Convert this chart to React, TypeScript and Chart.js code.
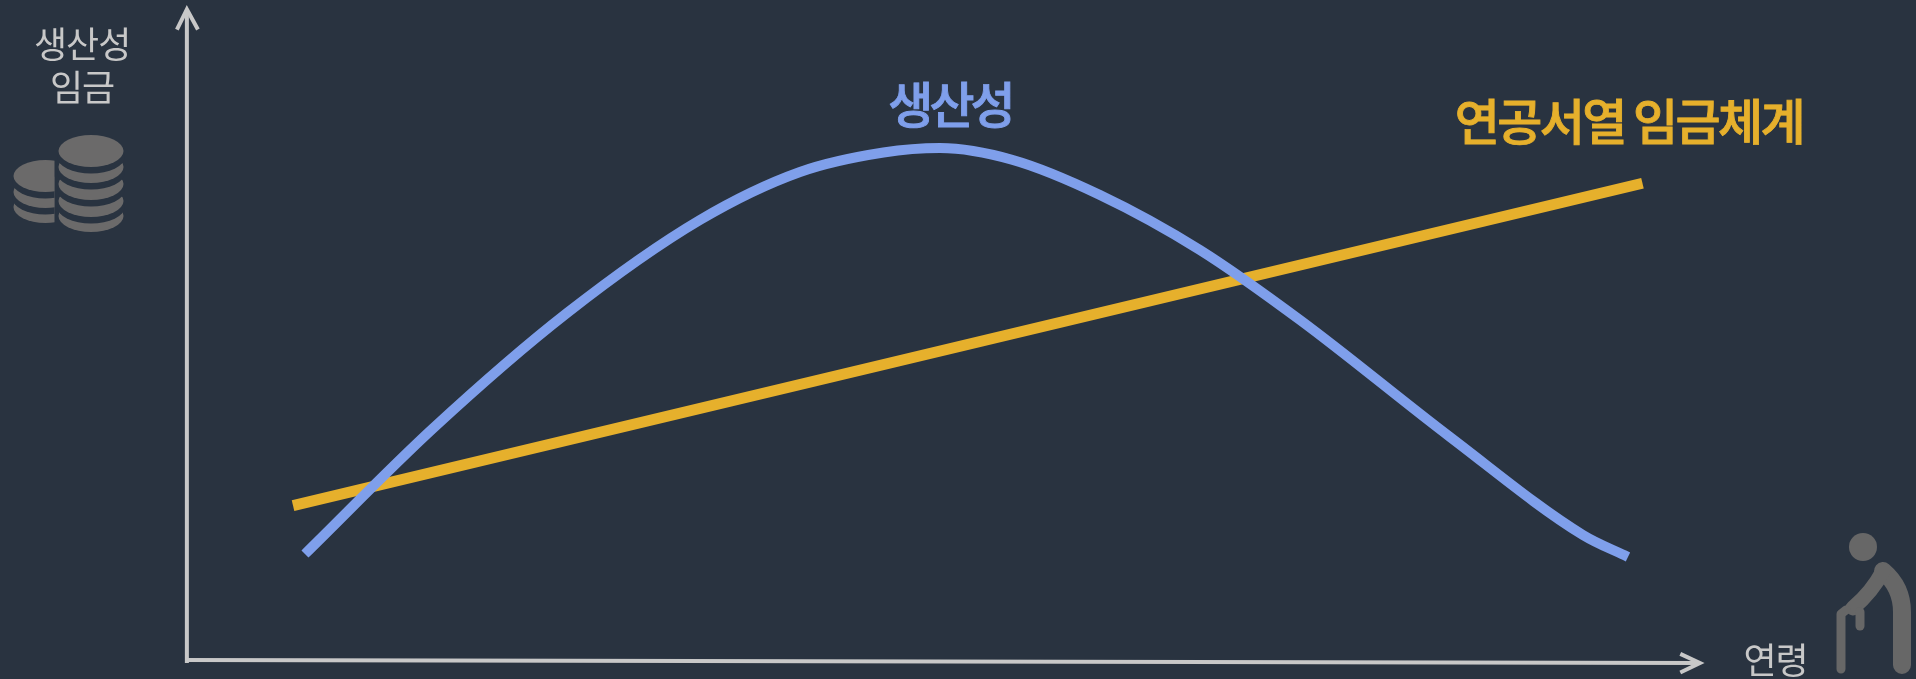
import React, { useEffect, useRef } from "react";
import { Chart, registerables } from "chart.js";

Chart.register(...registerables);

const BG = "#293340";
const AXIS = "#c8c8c8";
const BLUE = "#7f9feb";
const YELLOW = "#e6b02c";
const ICON = "#676767";
const FONT = '"Noto Sans CJK KR", "Noto Sans", sans-serif';

const productivityAge = [7.74, 16.2, 25.07, 33.86, 40.48, 46.0, 49.74, 54.5, 60.32, 66.93, 73.55, 83.47, 92.26, 95.24];
const productivityValue = [16.51, 35.7, 53.36, 67.58, 74.92, 77.9, 78.59, 76.8, 71.41, 63.0, 52.29, 34.4, 19.42, 16.06];
const seniorityAge = [6.95, 96.2];
const seniorityValue = [23.9, 73.2];

const yAxisAge = [-0.07, -0.07];
const yAxisValue = [-0.15, 99.7];
const xAxisAge = [-0.07, 100.0];
const xAxisValue = [0.3, -0.15];
const yArrowAge = [-0.73, -0.07, 0.66];
const yArrowValue = [96.7, 99.8, 96.7];
const xArrowAge = [98.7, 100.0, 98.7];
const xArrowValue = [1.25, -0.15, -1.6];

const zip = (xs: number[], ys: number[]) => xs.map((x, i) => ({ x, y: ys[i] }));

const labels = [
  { text: "생산성", x: -7, y: 94.5, size: 36, weight: 400, spacing: -1, halo: 0, color: AXIS },
  { text: "임금", x: -7, y: 87.8, size: 36, weight: 400, spacing: -1, halo: 0, color: AXIS },
  { text: "연령", x: 105, y: 0.3, size: 36, weight: 400, spacing: -1, halo: 0, color: AXIS },
  { text: "생산성", x: 50.4, y: 85.2, size: 49, weight: 500, spacing: -4, halo: 0.9, color: BLUE },
  { text: "연공서열 임금체계", x: 95.3, y: 82.6, size: 49, weight: 500, spacing: -2.6, halo: 0.9, color: YELLOW },
];

function drawStack(ctx: CanvasRenderingContext2D, cx: number, cys: number[], rx: number, ry: number, clipRight: number) {
  ctx.save();
  ctx.beginPath();
  ctx.rect(0, 0, clipRight, 679);
  ctx.clip();
  for (let i = cys.length - 1; i >= 0; i--) {
    if (i < cys.length - 1) {
      ctx.fillStyle = BG;
      ctx.beginPath();
      ctx.ellipse(cx, cys[i] + 6.5, rx + 1, ry, 0, 0, Math.PI * 2);
      ctx.fill();
    }
    ctx.fillStyle = "#6b6a6a";
    ctx.beginPath();
    ctx.ellipse(cx, cys[i], rx, ry, 0, 0, Math.PI * 2);
    ctx.fill();
  }
  ctx.restore();
}

function drawPerson(ctx: CanvasRenderingContext2D) {
  ctx.save();
  ctx.fillStyle = ICON;
  ctx.strokeStyle = ICON;
  ctx.lineCap = "round";
  ctx.lineJoin = "round";
  ctx.beginPath();
  ctx.arc(1863, 547, 14, 0, Math.PI * 2);
  ctx.fill();
  ctx.lineWidth = 18;
  ctx.beginPath();
  ctx.moveTo(1883, 571);
  ctx.bezierCurveTo(1896, 582, 1902, 595, 1902, 612);
  ctx.lineTo(1902, 665);
  ctx.stroke();
  ctx.lineWidth = 15;
  ctx.beginPath();
  ctx.moveTo(1883, 571);
  ctx.quadraticCurveTo(1872, 592, 1853, 608);
  ctx.stroke();
  ctx.lineWidth = 9;
  ctx.beginPath();
  ctx.moveTo(1860, 612);
  ctx.lineTo(1860, 626);
  ctx.stroke();
  ctx.beginPath();
  ctx.moveTo(1841, 669);
  ctx.lineTo(1841, 614);
  ctx.lineTo(1846, 610);
  ctx.stroke();
  ctx.restore();
}

const decorations = {
  id: "decorations",
  afterDatasetsDraw(chart: any) {
    const { ctx, scales } = chart;
    ctx.save();
    ctx.textAlign = "center";
    ctx.textBaseline = "middle";
    for (const l of labels) {
      ctx.font = `${l.weight} ${l.size}px ${FONT}`;
      ctx.letterSpacing = `${l.spacing}px`;
      ctx.fillStyle = l.color;
      const px = scales.x.getPixelForValue(l.x);
      const py = scales.y.getPixelForValue(l.y);
      ctx.fillText(l.text, px, py);
      if (l.halo) {
        ctx.strokeStyle = l.color;
        ctx.lineWidth = l.halo;
        ctx.strokeText(l.text, px, py);
      }
    }
    ctx.restore();
    drawStack(ctx, 45.5, [176, 192, 207], 32, 16, 54.5);
    drawStack(ctx, 91, [151, 167, 184, 201, 216], 32.5, 16, 200);
    drawPerson(ctx);
  },
};

const line = (data: { x: number; y: number }[], color: string, width: number, smooth = false) => ({
  data,
  borderColor: color,
  borderWidth: width,
  pointRadius: 0,
  cubicInterpolationMode: smooth ? ("monotone" as const) : ("default" as const),
  tension: 0,
  fill: false,
  clip: false as const,
  borderCapStyle: "butt" as const,
});

export default function App() {
  const ref = useRef<HTMLCanvasElement>(null);
  useEffect(() => {
    const chart = new Chart(ref.current!, {
      type: "line",
      data: {
        datasets: [
          line(zip(yAxisAge, yAxisValue), AXIS, 4),
          line(zip(xAxisAge, xAxisValue), AXIS, 4),
          line(zip(yArrowAge, yArrowValue), AXIS, 4),
          line(zip(xArrowAge, xArrowValue), AXIS, 4),
          line(zip(productivityAge, productivityValue), BLUE, 10, true),
          line(zip(seniorityAge, seniorityValue), YELLOW, 11),
        ],
      },
      options: {
        responsive: false,
        animation: false,
        devicePixelRatio: 1,
        layout: { padding: 0 },
        plugins: { legend: { display: false }, tooltip: { enabled: false }, title: { display: false } },
        scales: {
          x: { type: "linear", min: -12.43, max: 114.29, display: false },
          y: { type: "linear", min: -2.6, max: 101.22, display: false },
        },
      },
      plugins: [decorations],
    });
    return () => chart.destroy();
  }, []);
  return (
    <div style={{ position: "fixed", inset: 0, background: BG }}>
      <canvas ref={ref} width={1916} height={679} style={{ display: "block" }} />
    </div>
  );
}
